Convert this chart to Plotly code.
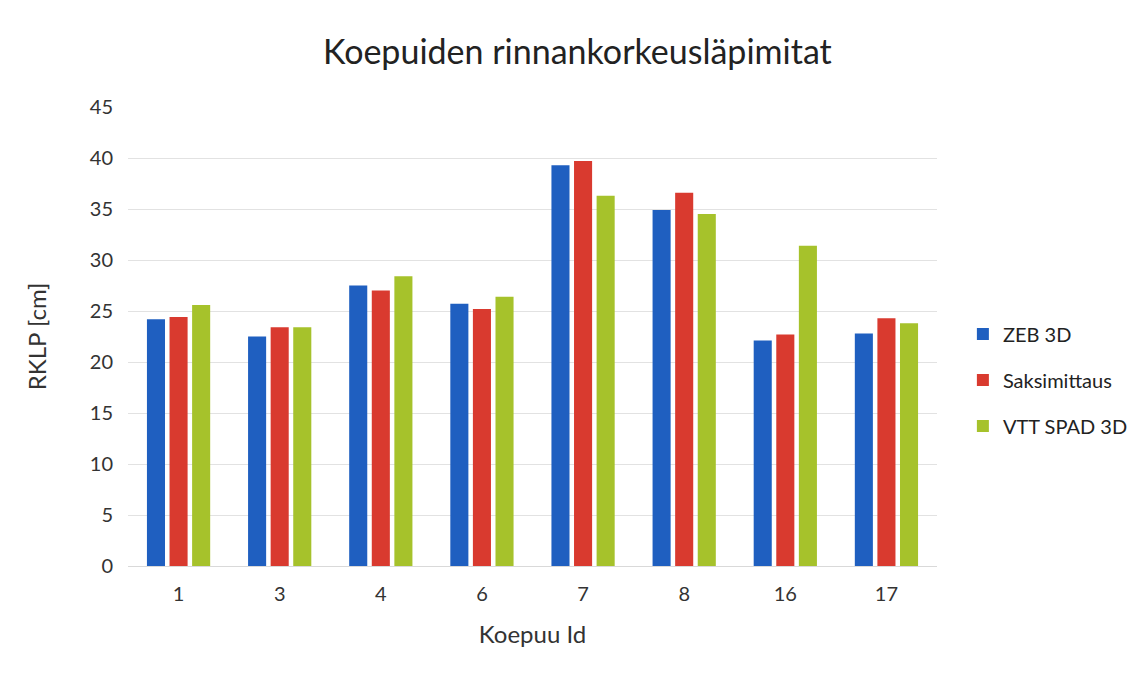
import plotly.graph_objects as go

categories = ["1", "3", "4", "6", "7", "8", "16", "17"]
zeb_3d = [24.2, 22.5, 27.5, 25.7, 39.3, 34.9, 22.1, 22.8]
saksimittaus = [24.4, 23.4, 27.0, 25.2, 39.7, 36.6, 22.7, 24.3]
vtt_spad_3d = [25.6, 23.4, 28.4, 26.4, 36.3, 34.5, 31.4, 23.8]

series_names = ["ZEB 3D", "Saksimittaus", "VTT SPAD 3D"]
series_values = [zeb_3d, saksimittaus, vtt_spad_3d]
colors = ["#1f5fc0", "#d93a2f", "#a6c22b"]

FONT = "Lato"

fig = go.Figure()
for i, (name, vals, col) in enumerate(zip(series_names, series_values, colors)):
    fig.add_trace(go.Bar(
        x=categories, y=vals, name=name, marker_color=col,
        marker_line_width=0, legendgroup=f"g{i}",
    ))

fig.update_layout(
    width=1141, height=678,
    paper_bgcolor="white", plot_bgcolor="white",
    font=dict(family=FONT, size=20, color="#333333"),
    title=dict(text="Koepuiden rinnankorkeusläpimitat", x=0.499, xref="container",
               xanchor="center", y=0.935, yanchor="middle",
               font=dict(family=FONT, size=34, color="#222222")),
    margin=dict(l=120, r=212, t=99, b=120),
    barmode="group", bargap=0.33, bargroupgap=0.2,
    legend=dict(x=1.032, xanchor="left", y=0.405, yanchor="middle",
                font=dict(family=FONT, size=20, color="#222222"),
                tracegroupgap=17, bgcolor="rgba(0,0,0,0)"),
    xaxis=dict(type="category", showgrid=False, showline=True,
               linecolor="#d9d9d9", linewidth=1, ticks="",
               tickfont=dict(size=20, color="#333333"), ticklabelstandoff=10,
               title=dict(text="Koepuu Id", font=dict(size=24, color="#333333"), standoff=22)),
    yaxis=dict(range=[0, 45], dtick=5, showgrid=True, gridcolor="#e2e2e2",
               gridwidth=1, zeroline=False, showline=False, ticks="",
               tickfont=dict(size=20, color="#333333"), ticklabelstandoff=14,
               title=dict(text="RKLP [cm]", font=dict(size=24, color="#333333"), standoff=36)),
)

fig.write_html("out.html")
